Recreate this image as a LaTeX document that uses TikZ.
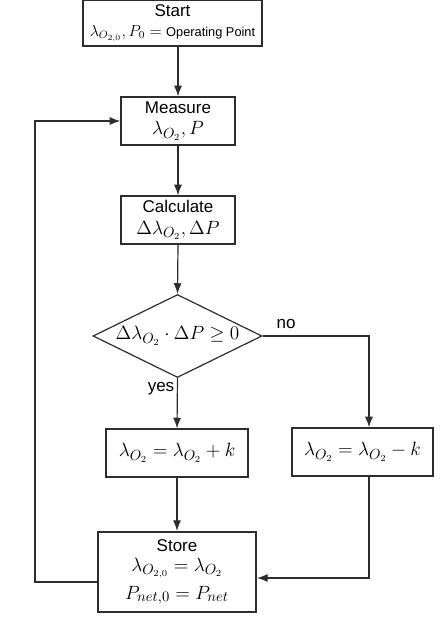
\documentclass[tikz,border=0pt]{standalone}
\usepackage{fontspec}
\setmainfont{Liberation Sans}
\usetikzlibrary{shapes.geometric,arrows.meta}
\definecolor{ln}{RGB}{45,45,45}
\newcommand\tx[1]{{\fontsize{12.75}{15}\selectfont #1}}
\begin{document}
\begin{tikzpicture}[x=0.75pt,y=-0.75pt,
  box/.style={draw=ln, line width=0.9pt, fill=white, inner sep=0pt, align=center,
              font=\fontsize{15}{16}\selectfont},
  arr/.style={draw=ln, line width=0.9pt, -{Latex[length=8pt,width=6pt]}},
  lbl/.style={font=\fontsize{12.75}{15}\selectfont, inner sep=0pt}]
\useasboundingbox (0,0) rectangle (447,621);
\node[box, minimum width=134.25pt, minimum height=34.5pt] (start) at (172.5,23)
  {\tx{Start}\\[-1pt]{\fontsize{12}{13}\selectfont $\lambda_{O_{2,0}}, P_0 =$ {\fontsize{9.6}{11}\selectfont Operating Point}}};
\node[box, minimum width=85.5pt, minimum height=36pt] (meas) at (178,121)
  {\tx{Measure}\\$\lambda_{O_2}, P$};
\node[box, minimum width=85.5pt, minimum height=36pt] (calc) at (178,220)
  {\tx{Calculate}\\$\Delta\lambda_{O_2}, \Delta P$};
\node[box, diamond, aspect=2.04, minimum width=126.75pt, minimum height=62.25pt] (dia) at (177.5,336)
  {$\Delta\lambda_{O_2}\cdot\Delta P \geq 0$};
\node[box, minimum width=106.5pt, minimum height=36pt] (plus) at (177,453)
  {$\lambda_{O_2} = \lambda_{O_2} + k$};
\node[box, minimum width=105.75pt, minimum height=36pt] (minus) at (362.5,452)
  {$\lambda_{O_2} = \lambda_{O_2} - k$};
\node[box, line width=1.5pt, minimum width=118.5pt, minimum height=60pt] (store) at (177,572)
  {\tx{Store}\\[-1pt]$\lambda_{O_{2,0}} = \lambda_{O_2}$\\[5pt]$P_{net,0} = P_{net}$};
\coordinate (nc) at (369,336);
\coordinate (fb) at (35,582);
\draw[arr] (start.south -| meas.north) -- (meas.north);
\draw[arr] (meas.south) -- (calc.north);
\draw[arr] (calc.south) -- (dia.north);
\draw[arr] (dia.south) -- (plus.north);
\draw[arr] (dia.east) -- (nc) -- (nc |- minus.north);
\draw[arr] (plus.south) -- (store.north);
\draw[arr] (minus.south -| nc) |- ([yshift=-4.5pt]store.east);
\draw[arr] (fb -| store.west) -- (fb) |- (meas.west);
\node[lbl] (no) at (286,324) {no};
\node[lbl] (yes) at (161,389) {yes};
\end{tikzpicture}
\end{document}
